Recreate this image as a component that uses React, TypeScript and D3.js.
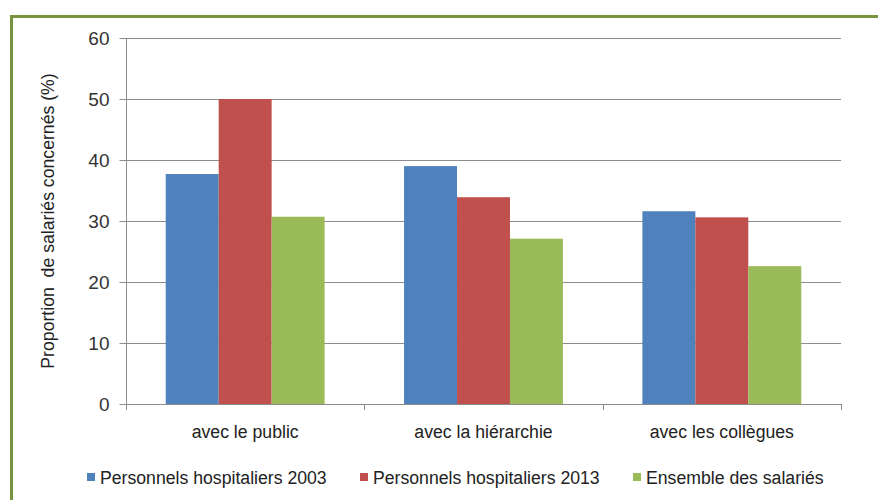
import React, { useEffect, useRef } from "react";
import { select, scaleLinear, scaleBand, axisLeft } from "d3";

// categories and series
const categories = ["avec le public", "avec la hiérarchie", "avec les collègues"];
const seriesNames = [
  "Personnels hospitaliers 2003",
  "Personnels hospitaliers 2013",
  "Ensemble des salariés"
];
const hosp2003 = [37.7, 39.0, 31.6];
const hosp2013 = [50.0, 33.9, 30.6];
const ensemble = [30.7, 27.1, 22.6];
const yTicks = [0, 10, 20, 30, 40, 50, 60];

const colors = ["#4F81BD", "#C0504D", "#9BBB59"];
const FONT = "'Liberation Sans', Arial, sans-serif";
const SQUEEZE = 0.93; // the original uses a narrow face

export default function App() {
  const ref = useRef<SVGSVGElement>(null);

  useEffect(() => {
    const svg = select(ref.current);
    svg.selectAll("*").remove();

    const margin = { top: 38, left: 126, right: 841, bottom: 404 };
    const series = [hosp2003, hosp2013, ensemble];

    // outer green frame (only top and left visible in the picture)
    svg.append("rect")
      .attr("width", 878).attr("height", 500).attr("fill", "#fff");
    svg.append("path")
      .attr("d", "M11.5,520 V16.5 H900")
      .attr("fill", "none")
      .attr("stroke", "#77933C")
      .attr("stroke-width", 3);

    const y = scaleLinear().domain([0, 60]).range([margin.bottom, margin.top]);
    const x0 = scaleBand().domain(categories).range([margin.left, margin.right]);
    // gap width 150% -> bars take 3/4.5 of each band
    const x1 = scaleBand()
      .domain(seriesNames)
      .range([0, x0.bandwidth()])
      .paddingOuter(0.75)
      .paddingInner(0);

    // horizontal gridlines
    svg.append("g")
      .selectAll("line")
      .data(yTicks.filter(t => t > 0))
      .enter()
      .append("line")
      .attr("x1", margin.left).attr("x2", margin.right)
      .attr("y1", d => Math.round(y(d)) + 0.5).attr("y2", d => Math.round(y(d)) + 0.5)
      .attr("stroke", "#8c8c8c").attr("stroke-width", 1);

    // bars
    series.forEach((vals, si) => {
      svg.append("g")
        .selectAll("rect")
        .data(vals)
        .enter()
        .append("rect")
        .attr("x", (d, i) => (x0(categories[i]) as number) + (x1(seriesNames[si]) as number))
        .attr("y", d => y(d))
        .attr("width", x1.bandwidth())
        .attr("height", d => y(0) - y(d))
        .attr("fill", colors[si]);
    });

    // y axis
    const yAxisG = svg.append("g")
      .attr("transform", `translate(${margin.left + 0.5},0)`)
      .call(axisLeft(y).tickValues(yTicks).tickSize(7).tickPadding(10));
    yAxisG.select(".domain").attr("stroke", "#8c8c8c").attr("d", `M0,${margin.top}V${margin.bottom}`);
    yAxisG.selectAll(".tick line").attr("stroke", "#8c8c8c");
    yAxisG.selectAll(".tick text")
      .attr("font-family", FONT).attr("font-size", 19).attr("fill", "#333");

    // x axis line and category ticks
    const xa = svg.append("g");
    xa.append("line")
      .attr("x1", margin.left).attr("x2", margin.right)
      .attr("y1", margin.bottom + 0.5).attr("y2", margin.bottom + 0.5)
      .attr("stroke", "#8c8c8c");
    const bounds = categories.map(c => x0(c) as number).concat([margin.right]);
    xa.selectAll("line.tk")
      .data(bounds)
      .enter()
      .append("line")
      .attr("class", "tk")
      .attr("x1", d => Math.round(d) + 0.5).attr("x2", d => Math.round(d) + 0.5)
      .attr("y1", margin.bottom).attr("y2", margin.bottom + 6)
      .attr("stroke", "#8c8c8c");
    xa.selectAll("text")
      .data(categories)
      .enter()
      .append("text")
      .attr("transform", d =>
        `translate(${(x0(d) as number) + x0.bandwidth() / 2},438) scale(${SQUEEZE},1)`)
      .attr("text-anchor", "middle")
      .attr("font-family", FONT).attr("font-size", 19).attr("fill", "#222")
      .text(d => d);

    // y title
    svg.append("text")
      .attr("transform",
        `translate(54,${(margin.top + margin.bottom) / 2}) rotate(-90) scale(${SQUEEZE},1)`)
      .attr("text-anchor", "middle")
      .attr("font-family", FONT).attr("font-size", 19).attr("fill", "#222")
      .attr("xml:space", "preserve")
      .text("Proportion  de salariés concernés (%)");

    // legend
    const legendX = [87, 360, 633];
    const lg = svg.append("g");
    seriesNames.forEach((name, i) => {
      lg.append("rect")
        .attr("x", legendX[i]).attr("y", 473)
        .attr("width", 8).attr("height", 8)
        .attr("fill", colors[i]);
      lg.append("text")
        .attr("transform", `translate(${legendX[i] + 13},484) scale(${SQUEEZE},1)`)
        .attr("font-family", FONT).attr("font-size", 19).attr("fill", "#222")
        .text(name);
    });
  }, []);

  return (
    <svg
      ref={ref}
      width={878}
      height={500}
      style={{ position: "absolute", left: 0, top: 0, display: "block" }}
    />
  );
}
